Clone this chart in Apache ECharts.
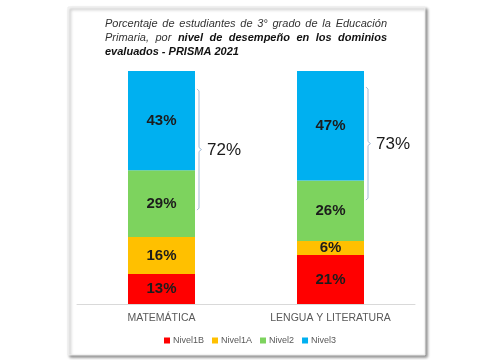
<!DOCTYPE html>
<html><head><meta charset="utf-8">
<script src="https://cdn.jsdelivr.net/npm/echarts@6/dist/echarts.min.js"></script>
<style>html,body{margin:0;padding:0;background:#fff}#c{width:487px;height:360px}</style>
</head><body><div id="c"></div>
<script>
const categories = ['MATEMÁTICA', 'LENGUA Y LITERATURA'];
const seriesNames = ['Nivel1B', 'Nivel1A', 'Nivel2', 'Nivel3'];
const nivel1B = [13, 21];
const nivel1A = [16, 6];
const nivel2 = [29, 26];
const nivel3 = [43, 47];
const bracketTotals = [72, 73];
const bracketLow = [40.3, 44.6];
const bracketHigh = [92.3, 93.1];
const colors = ['#ff0000', '#ffc000', '#7dd35e', '#00b0f0'];

const allSeries = [nivel1B, nivel1A, nivel2, nivel3];
const totals = categories.map((_, i) => allSeries.reduce((s, a) => s + a[i], 0));

const chart = echarts.init(document.getElementById('c'));

// Title, justified
const titleLines = [
  [['Porcentaje de estudiantes de 3° grado de la Educación', false]],
  [['Primaria, por', false], ['nivel de desempeño en los dominios', true]],
  [['evaluados - PRISMA 2021', true]]
];
const TX0 = 105, TX1 = 387, TY = [23.5, 37.8, 52.1];
const fam = '"Liberation Sans", Arial, sans-serif';
const fsz = 11;
const cv = document.createElement('canvas').getContext('2d');
function fontOf(b){ return 'italic ' + (b ? 'bold ' : '') + fsz + 'px ' + fam; }
function meas(t, b){ cv.font = fontOf(b); return cv.measureText(t).width; }
const titleEls = [];
titleLines.forEach((line, li) => {
  const words = [];
  line.forEach(([txt, b]) => txt.split(' ').forEach(w => words.push({w, b, wd: meas(w, b)})));
  const sum = words.reduce((s, o) => s + o.wd, 0);
  const last = li === titleLines.length - 1;
  let gap = last ? meas(' ', false) : (TX1 - TX0 - sum) / (words.length - 1);
  if (gap < 2) gap = 2;
  let x = TX0;
  words.forEach(o => {
    titleEls.push({type: 'text', x, y: TY[li], z: 10, silent: true,
      style: {text: o.w, font: fontOf(o.b), fill: o.b ? '#111' : '#333', textVerticalAlign: 'middle', textAlign: 'left'}});
    x += o.wd + gap;
  });
});

const barSeries = seriesNames.map((name, si) => ({
  name, type: 'bar', stack: 'total', barWidth: 67,
  itemStyle: {color: colors[si]},
  data: allSeries[si].map((v, i) => ({value: v / totals[i] * 100, raw: v})),
  label: {show: true, position: 'inside', fontFamily: fam, fontWeight: 'bold', fontSize: 15, color: '#1c1c1c',
    formatter: p => p.data.raw + '%'}
}));

const bracketSeries = {
  type: 'custom', name: 'bracket', silent: true, z: 5,
  data: categories.map((_, i) => [i, bracketLow[i], bracketHigh[i], bracketTotals[i]]),
  encode: {x: 0, y: [1, 2]},
  renderItem: (params, api) => {
    const i = api.value(0);
    const lo = api.coord([i, api.value(1)]);
    const hi = api.coord([i, api.value(2)]);
    const band = api.size([1, 0])[0];
    const x = lo[0] + 67 / 2 + 4;
    const top = hi[1], bot = lo[1], mid = (top + bot) / 2;
    return {type: 'group', children: [
      {type: 'polyline', shape: {points: [[x - 2, top], [x, top + 2], [x, mid - 2], [x + 2.5, mid], [x, mid + 2], [x, bot - 2], [x - 2, bot]]},
        style: {stroke: '#a3bcd9', lineWidth: 1, fill: null}},
      {type: 'text', x: x + 8, y: mid + 1, style: {text: api.value(3) + '%', font: '17px ' + fam, fill: '#1a1a1a', textVerticalAlign: 'middle', textAlign: 'left'}}
    ]};
  }
};

chart.setOption({
  animation: false,
  graphic: [
    {type: 'rect', z: -10, silent: true, shape: {x: 68, y: 7, width: 357, height: 348},
      style: {fill: '#fff', stroke: '#ececec', lineWidth: 1, shadowColor: 'rgba(0,0,0,0.45)', shadowOffsetX: 2, shadowOffsetY: 2, shadowBlur: 3}}
  ].concat(titleEls),
  grid: {left: 77, right: 72, top: 71, bottom: 56},
  legend: {data: seriesNames, left: 164, top: 336, itemWidth: 6, itemHeight: 6, itemGap: 8, icon: 'rect', padding: 0,
    textStyle: {fontFamily: fam, fontSize: 9, color: '#595959', padding: [0, 0, 0, -2]}},
  xAxis: {type: 'category', data: categories,
    axisLine: {lineStyle: {color: '#d9d9d9', width: 1}}, axisTick: {show: false},
    axisLabel: {margin: 9, fontFamily: fam, fontSize: 10.5, color: '#595959'}},
  yAxis: {type: 'value', min: 0, max: 100, show: false, splitLine: {show: false}},
  series: barSeries.concat([bracketSeries])
});
</script></body></html>
